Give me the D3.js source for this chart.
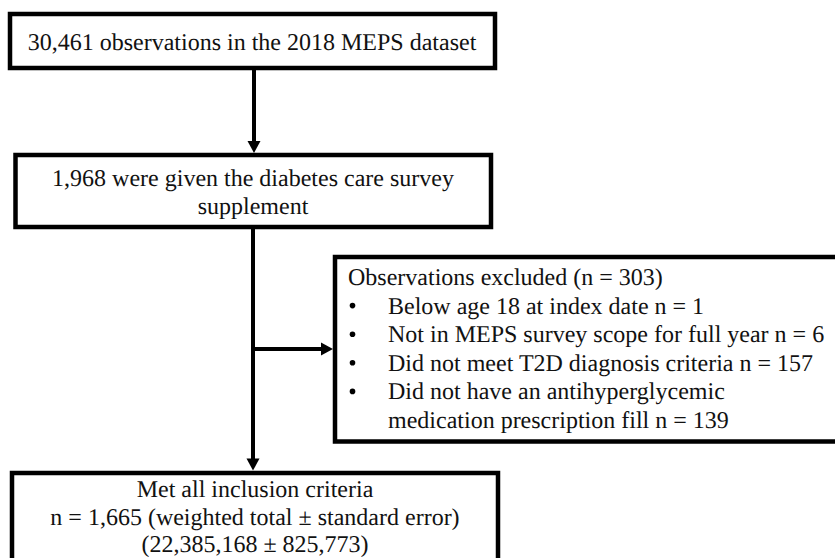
<!DOCTYPE html>
<html>
<head>
<meta charset="utf-8">
<script src="https://cdn.jsdelivr.net/npm/d3@7"></script>
<style>
  html, body { margin: 0; padding: 0; background: #fff; }
  svg { display: block; }
  text { font-family: "Liberation Serif", "Times New Roman", serif; font-size: 24px; fill: #111; text-rendering: geometricPrecision; }
</style>
</head>
<body>
<svg id="chart" width="835" height="558"></svg>
<script>
// ---- data (text content & counts) ----
const totalObs = "30,461";
const surveyN = "1,968";
const excludedN = 303;
const exclusionReasons = [
  "Below age 18 at index date n = 1",
  "Not in MEPS survey scope for full year n = 6",
  "Did not meet T2D diagnosis criteria n = 157",
  "Did not have an antihyperglycemic",
  "medication prescription fill n = 139"
];
const bulletFlags = [true, true, true, true, false];
const finalLines = [
  "Met all inclusion criteria",
  "n = 1,665 (weighted total \u00b1 standard error)",
  "(22,385,168 \u00b1 825,773)"
];

// ---- layout ----
const svg = d3.select("#chart");
const boxes = [
  { id: "b1", x0: 10, y0: 14, x1: 495, y1: 68,
    lines: [totalObs + " observations in the 2018 MEPS dataset"], cx: 252, base: 50, step: 0 },
  { id: "b2", x0: 15.5, y0: 155, x1: 491, y1: 227,
    lines: [surveyN + " were given the diabetes care survey", "supplement"], cx: 253, base: 186, step: 27.5 },
  { id: "b4", x0: 12, y0: 473, x1: 498, y1: 570,
    lines: finalLines, cx: 255, base: 497, step: 27.5 }
];
const excl = { x0: 335, y0: 257, x1: 845, y1: 441.5 };

const g = svg.append("g");

g.selectAll("rect.box").data(boxes.concat([excl])).join("rect")
  .attr("class", "box")
  .attr("x", d => d.x0).attr("y", d => d.y0)
  .attr("width", d => d.x1 - d.x0).attr("height", d => d.y1 - d.y0)
  .attr("fill", "#fff").attr("stroke", "#000").attr("stroke-width", 4.5);

boxes.forEach(b => {
  g.selectAll(null).data(b.lines).join("text")
    .attr("x", b.cx).attr("y", (d, i) => b.base + i * b.step)
    .attr("text-anchor", "middle").text(d => d);
});

// exclusion box text
const exBase = 285, exStep = 28.6;
g.append("text").attr("x", 348).attr("y", exBase)
  .text("Observations excluded (n = " + excludedN + ")");
g.selectAll("text.item").data(exclusionReasons).join("text")
  .attr("class", "item")
  .attr("x", 388).attr("y", (d, i) => exBase + (i + 1) * exStep)
  .text(d => d);
g.selectAll("circle.bullet").data(bulletFlags.map((f, i) => ({ f, i })).filter(d => d.f)).join("circle")
  .attr("class", "bullet")
  .attr("cx", 352.5).attr("cy", d => exBase + (d.i + 1) * exStep - 8)
  .attr("r", 2.8).attr("fill", "#000");

// ---- arrows ----
const lw = 4;
function vline(x, y0, y1) {
  g.append("line").attr("x1", x).attr("x2", x).attr("y1", y0).attr("y2", y1)
    .attr("stroke", "#000").attr("stroke-width", lw);
}
function headDown(x, tip) {
  g.append("path").attr("d", d3.line()([[x - 6.5, tip - 12], [x + 6.5, tip - 12], [x, tip]]) + "Z")
    .attr("fill", "#000");
}
function headRight(tipX, y) {
  g.append("path").attr("d", d3.line()([[tipX - 12, y - 6.5], [tipX - 12, y + 6.5], [tipX, y]]) + "Z")
    .attr("fill", "#000");
}
// arrow 1
vline(254, 70, 143);
headDown(254, 153);
// arrow 2 (main)
vline(253, 229, 460);
headDown(253, 470.5);
// branch
g.append("line").attr("x1", 253).attr("x2", 323).attr("y1", 349).attr("y2", 349)
  .attr("stroke", "#000").attr("stroke-width", lw);
headRight(333, 349);
</script>
</body>
</html>
